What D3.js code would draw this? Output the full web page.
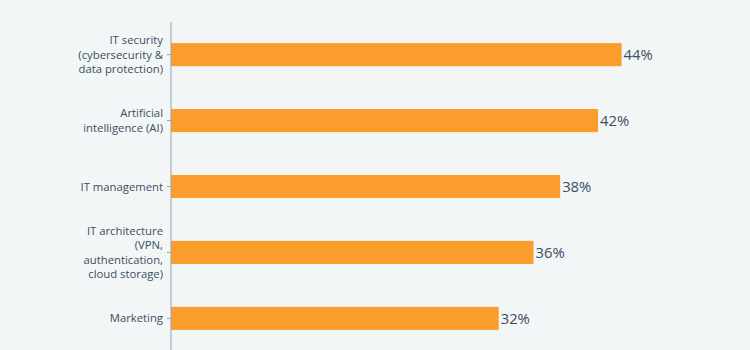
<!DOCTYPE html>
<html>
<head>
<meta charset="utf-8">
<script src="https://cdn.jsdelivr.net/npm/d3@7"></script>
<style>
  html, body { margin: 0; padding: 0; background: #f2f6f7; }
  svg { display: block; font-family: "Open Sans", sans-serif; }
</style>
</head>
<body>
<div id="chart"></div>
<script>
var categories = [
  ["IT security", "(cybersecurity &", "data protection)"],
  ["Artificial", "intelligence (AI)"],
  ["IT management"],
  ["IT architecture", "(VPN,", "authentication,", "cloud storage)"],
  ["Marketing"]
];
var values = [44, 41.7, 38, 35.4, 32];
var valueLabels = ["44%", "42%", "38%", "36%", "32%"];

var width = 750, height = 350;
var margin = {top: 22, right: 100, bottom: 0, left: 171};

var svg = d3.select('#chart')
    .append('svg')
    .attr('width', width)
    .attr('height', height);

svg.append('rect')
    .attr('width', width)
    .attr('height', height)
    .attr('fill', '#f2f6f7');

var ids = d3.range(values.length);

var y = d3.scaleBand()
    .domain(ids)
    .range([margin.top, 351])
    .paddingInner(0.65)
    .paddingOuter(0.32);

var x = d3.scaleLinear()
    .domain([0, 44])
    .range([margin.left, 621.6]);

var g = svg.append('g');

// bars
g.selectAll('.bar')
    .data(ids)
    .enter()
    .append('rect')
    .attr('class', 'bar')
    .attr('x', x(0))
    .attr('y', d => y(d))
    .attr('width', d => x(values[d]) - x(0))
    .attr('height', y.bandwidth())
    .attr('fill', '#fb9d2c');

// value labels
g.selectAll('.val')
    .data(ids)
    .enter()
    .append('text')
    .attr('class', 'val')
    .attr('x', d => x(values[d]) + 2)
    .attr('y', d => y(d) + y.bandwidth() / 2)
    .attr('dy', '0.36em')
    .attr('font-size', 14.8)
    .attr('fill', '#3a4e5e')
    .text(d => valueLabels[d]);

// axis
var axis = d3.axisLeft(y)
    .tickSize(4)
    .tickPadding(4)
    .tickFormat('');

var ax = svg.append('g')
    .attr('transform', 'translate(' + x(0) + ',0)')
    .call(axis);
ax.select('.domain').attr('d', 'M0,' + margin.top + 'V' + height).attr('stroke', '#9aa3a8');
ax.selectAll('.tick line').attr('stroke', '#9aa3a8');

var lh = 14.3;
var labels = svg.append('g').selectAll('text')
    .data(ids)
    .enter()
    .append('text')
    .attr('text-anchor', 'end')
    .attr('font-size', 11.3)
    .attr('fill', '#3a4e5e')
    .attr('transform', d => 'translate(' + (x(0) - 8) + ',' + (y(d) + y.bandwidth() / 2) + ')');

labels.each(function (d) {
    var lines = categories[d];
    var t = d3.select(this);
    lines.forEach(function (l, i) {
        t.append('tspan')
            .attr('x', 0)
            .attr('y', (i - (lines.length - 1) / 2) * lh)
            .attr('dy', '0.36em')
            .text(l);
    });
});
</script>
</body>
</html>
